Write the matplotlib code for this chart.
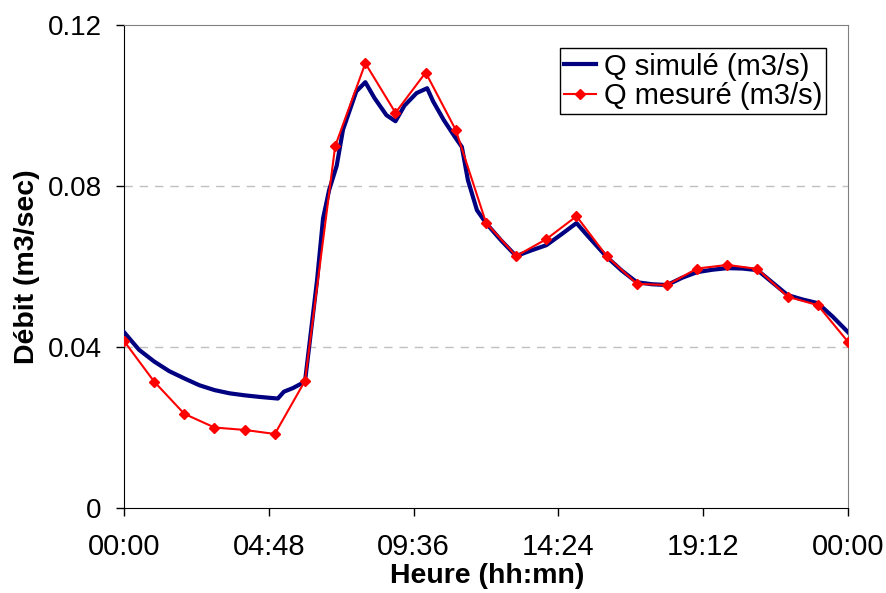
import numpy as np
import matplotlib
matplotlib.use("Agg")
import matplotlib.pyplot as plt

plt.rcParams['font.family'] = ['Liberation Sans', 'DejaVu Sans']

# Simulated discharge (hours, m3/s)
sim_hours = [0, 0.5, 1, 1.5, 2, 2.5, 3, 3.5, 4, 4.5, 5.1, 5.3, 5.6, 6.0, 6.4, 6.6,
             6.8, 7.05, 7.26, 7.7, 8.0, 8.3, 8.7, 9.0, 9.3, 9.7, 10.05, 10.25, 10.6,
             10.97, 11.2, 11.4, 11.7, 12.0, 12.5, 13.0, 13.5, 14.0, 14.5, 15.0,
             15.35, 16.0, 16.5, 17.0, 17.5, 18.0, 18.5, 19.0, 19.5, 20.0, 20.5,
             21.0, 21.5, 22.0, 22.5, 23.0, 23.5, 24.0]
sim_q = [0.0437, 0.0393, 0.0364, 0.0340, 0.0322, 0.0305, 0.0293, 0.0285, 0.0280,
         0.0276, 0.0272, 0.0289, 0.0298, 0.0314, 0.0566, 0.0720, 0.0790, 0.0850,
         0.0940, 0.1035, 0.1058, 0.1019, 0.0976, 0.0961, 0.1000, 0.1031, 0.1043,
         0.1010, 0.0964, 0.0922, 0.0897, 0.0815, 0.0740, 0.0708, 0.0665, 0.0626,
         0.0640, 0.0653, 0.0680, 0.0708, 0.0678, 0.0624, 0.0590, 0.0561, 0.0556,
         0.0554, 0.0572, 0.0586, 0.0592, 0.0596, 0.0595, 0.0591, 0.0560, 0.0529,
         0.0518, 0.0509, 0.0475, 0.0437]

# Measured discharge, hourly
mes_hours = list(range(25))
mes_q = [0.0415, 0.0314, 0.0234, 0.0200, 0.0194, 0.0184, 0.0316, 0.0899, 0.1105,
         0.0982, 0.1082, 0.0939, 0.0709, 0.0626, 0.0668, 0.0725, 0.0626, 0.0557,
         0.0554, 0.0595, 0.0604, 0.0594, 0.0525, 0.0504, 0.0413]

tick_hours = [0, 4.8, 9.6, 14.4, 19.2, 24]
tick_labels = ["00:00", "04:48", "09:36", "14:24", "19:12", "00:00"]
y_ticks = [0, 0.04, 0.08, 0.12]
y_labels = ["0", "0.04", "0.08", "0.12"]

fig = plt.figure(figsize=(8.87, 5.93), dpi=100)
ax = fig.add_axes([0.1398, 0.1433, 0.8162, 0.8145])

ax.plot(sim_hours, sim_q, color="#000080", lw=3, label="Q simulé (m3/s)", zorder=3)
ax.plot(mes_hours, mes_q, color="#ff0000", lw=1.5, marker="D", markersize=5,
        label="Q mesuré (m3/s)", zorder=4)

ax.set_xlim(0, 24)
ax.set_ylim(0, 0.12)
ax.set_xticks(tick_hours)
ax.set_xticklabels(tick_labels, fontsize=21)
ax.set_yticks(y_ticks)
ax.set_yticklabels(y_labels, fontsize=20)
ax.tick_params(axis="x", direction="out", length=6, width=1, pad=12)
ax.tick_params(axis="y", direction="out", length=6, width=1, pad=10)

for v in [0.04, 0.08]:
    ax.axhline(v, color="#c0c0c0", lw=1, ls=(0, (6, 5)), zorder=1)

for s in ["top", "right"]:
    ax.spines[s].set_color("#808080")
for s in ["left", "bottom"]:
    ax.spines[s].set_color("black")

ax.set_xlabel("Heure (hh:mn)", fontsize=20.5, fontweight="bold")
ax.set_ylabel("Débit (m3/sec)", fontsize=20.5, fontweight="bold")
ax.xaxis.set_label_coords(0.501, -0.114)
ax.yaxis.set_label_coords(-0.116, 0.5)

leg = ax.legend(loc="upper right", bbox_to_anchor=(0.97, 0.952), borderaxespad=0,
                fontsize=21, handlelength=1.1, handletextpad=0.25, labelspacing=0.05,
                borderpad=0.15, fancybox=False, framealpha=1, edgecolor="black")
leg.get_frame().set_linewidth(1)

fig.savefig("out.png", dpi=100)
